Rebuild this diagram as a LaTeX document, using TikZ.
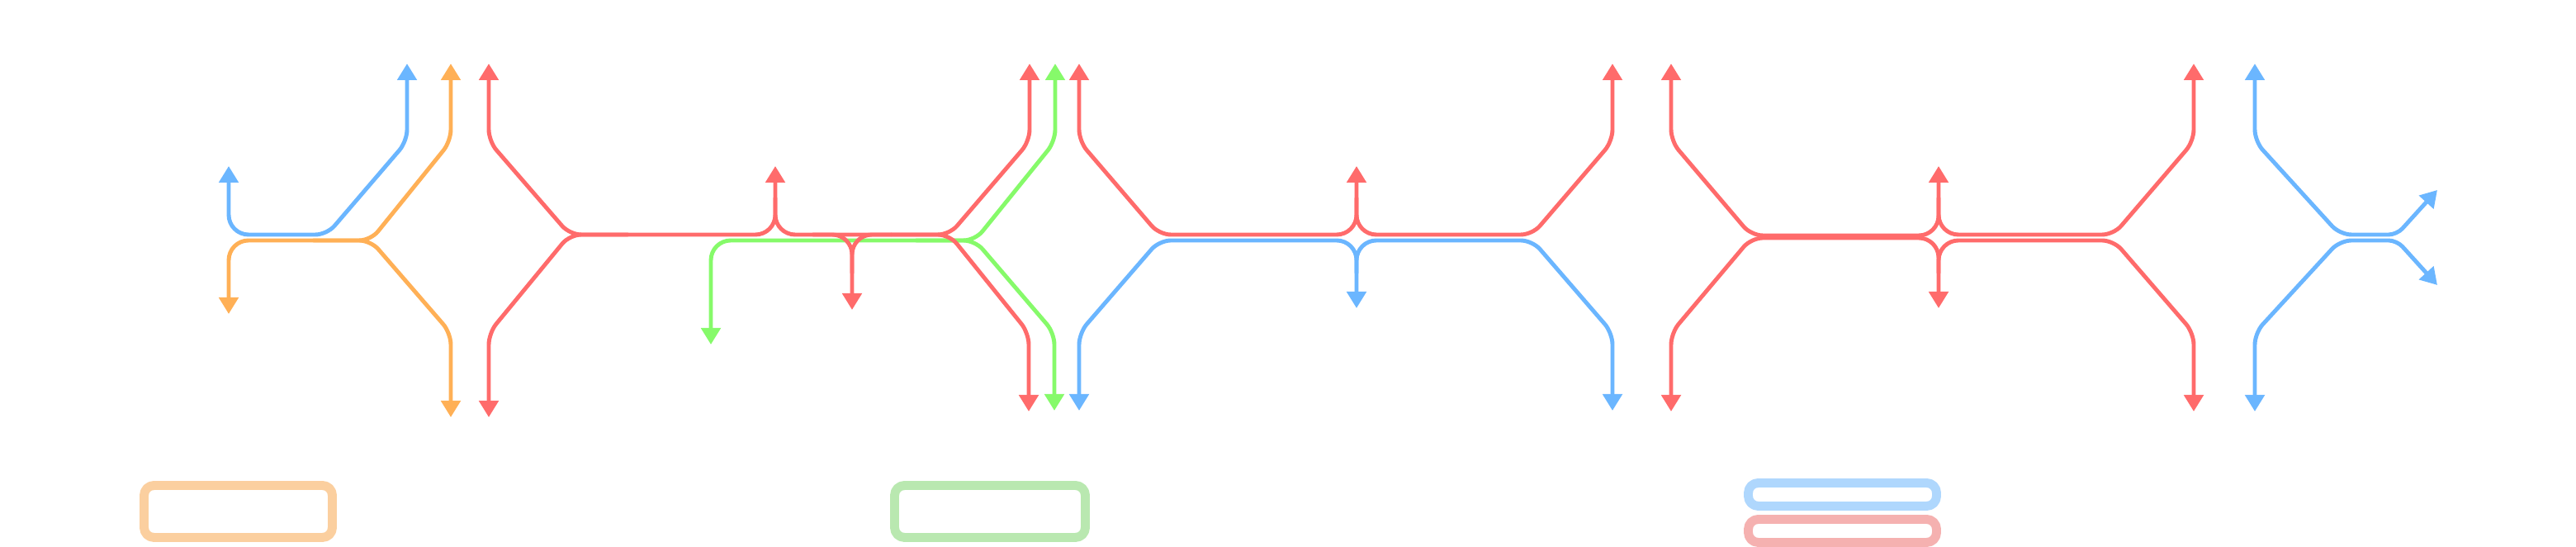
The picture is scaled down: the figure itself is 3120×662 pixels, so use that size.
\documentclass[tikz,border=0pt]{standalone}
\usepackage{tikz}
\usetikzlibrary{arrows.meta}
\definecolor{trkred}{HTML}{FF6B6B}
\definecolor{trkblue}{HTML}{6BB6FF}
\definecolor{trkorange}{HTML}{FFB056}
\definecolor{trkgreen}{HTML}{86FA6A}
\definecolor{keyorange}{HTML}{FBCF9F}
\definecolor{keygreen}{HTML}{B9E8B0}
\definecolor{keyblue}{HTML}{AFD7FD}
\definecolor{keypink}{HTML}{F5B1B0}
\begin{document}
\begin{tikzpicture}[x=0.01cm,y=-0.01cm,>={Triangle[length=2mm,width=2.3mm]},
  line cap=round,line join=round,
  track/.style={line width=1.4pt,rounded corners=1.4mm},
  sq/.style={rounded corners=2.4mm},
  dg/.style={rounded corners=1.4mm},
  keybox/.style={line width=3.1pt,rounded corners=1.2mm}]
\path[use as bounding box] (0,0) rectangle (3120,662);
\fill[white] (0,0) rectangle (3120,662);
% 第一组：蓝 + 橙
\draw[track,trkblue,<->] (277,201) [sq] -- (277,284) [dg] -- (396,284) -- (493,171) -- (493,77);
\draw[track,trkorange,<->] (277,380) [sq] -- (277,291) [dg] -- (449,291) -- (546,171) -- (546,77);
\draw[track,trkorange,->] (380,291) -- (449,291) -- (546,403) -- (546,505);
% 第二组：绿 + 红
\draw[track,trkgreen,<->] (861,417) [sq] -- (861,291) [dg] -- (1181,291) -- (1278,171) -- (1278,77);
\draw[track,trkgreen,->] (1110,291) -- (1181,291) -- (1277,403) -- (1277,497);
\draw[track,trkred,<->] (592,77) -- (592,171) -- (690,284) [sq] -- (939,284) -- (939,201);
\draw[track,trkred,<-] (592,505) -- (592,403) -- (690,284) -- (760,284);
\draw[track,trkred,<-] (1247,77) -- (1247,171) -- (1150,284) [sq] -- (939,284) -- (939,240);
\draw[track,trkred,<-] (1246,498) -- (1246,403) -- (1150,284) -- (1080,284);
\draw[track,trkred,->] (985,284) [sq] -- (1032,284) -- (1032,375);
\draw[track,trkred] (1079,284) [sq] -- (1032,284) -- (1032,330);
% 第三组：红在上，蓝在下
\draw[track,trkred,<->] (1307,77) -- (1307,171) -- (1404,284) [sq] -- (1643,284) -- (1643,201);
\draw[track,trkred,<-] (1953,77) -- (1953,171) -- (1856,284) [sq] -- (1643,284) -- (1643,240);
\draw[track,trkblue,<->] (1307,497) -- (1307,403) -- (1404,291) [sq] -- (1643,291) -- (1643,373);
\draw[track,trkblue,<-] (1953,497) -- (1953,403) -- (1856,291) [sq] -- (1643,291) -- (1643,330);
% 第四组：全红
\draw[track,trkred,<->] (2024,77) -- (2024,171) -- (2121,285) [sq] -- (2348,285) -- (2348,201);
\draw[track,trkred,<-] (2657,77) -- (2657,171) -- (2560,284) [sq] -- (2348,284) -- (2348,240);
\draw[track,trkred,<->] (2024,498) -- (2024,403) -- (2121,288) [sq] -- (2348,288) -- (2348,373);
\draw[track,trkred,<-] (2657,498) -- (2657,403) -- (2560,291) [sq] -- (2348,291) -- (2348,330);
% 第五组：蓝，向右分叉
\draw[track,trkblue,<->] (2731,77) -- (2731,171) -- (2834,284) [rounded corners=1mm] -- (2903,284) -- (2952,230);
\draw[track,trkblue,<->] (2731,498) -- (2731,403) -- (2834,291) [rounded corners=1mm] -- (2903,291) -- (2952,345);
% 图例框
\draw[keybox,keyorange] (174.5,587.5) rectangle (402.5,650.5);
\draw[keybox,keygreen] (1083.5,587.5) rectangle (1314.5,650.5);
\draw[keybox,keyblue] (2117.5,584.5) rectangle (2345.5,612.5);
\draw[keybox,keypink] (2117.5,628.5) rectangle (2345.5,656.5);
\end{tikzpicture}
\end{document}
